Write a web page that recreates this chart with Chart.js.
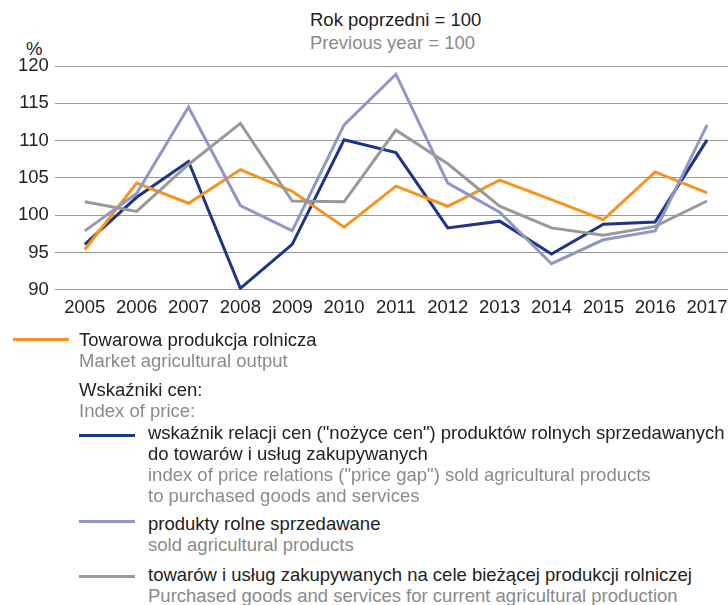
<!DOCTYPE html>
<html>
<head>
<meta charset="utf-8">
<script src="https://cdn.jsdelivr.net/npm/chart.js@4/dist/chart.umd.min.js"></script>
<style>
    body { margin: 0; background: #fff; }
    .page { position: relative; width: 728px; height: 605px; overflow: hidden; font-family: "Liberation Sans", Arial, sans-serif; }
    .plot { position: absolute; left: 0; top: 0; width: 740px; height: 330px; }
    .head { position: absolute; left: 310px; font-size: 18.5px; white-space: nowrap; }
    .pct { position: absolute; left: 26px; top: 38px; font-size: 18.5px; color: #222; }
    .leg { position: absolute; font-size: 18.5px; line-height: 21px; white-space: nowrap; color: #222; }
    .leg .en { color: #8a8a8a; }
    .swatch { position: absolute; width: 56px; height: 3px; }
</style>
</head>
<body>
<div class="page">
    <div class="head" style="top: 9px; color: #222;">Rok poprzedni = 100</div>
    <div class="head" style="top: 32px; color: #8a8a8a;">Previous year = 100</div>
    <div class="pct">%</div>
    <div class="plot"><canvas id="chart"></canvas></div>

    <div class="swatch" style="left: 13px; top: 338px; background: #f7941d;"></div>
    <div class="leg" style="left: 79px; top: 329px;">Towarowa produkcja rolnicza<br><span class="en">Market agricultural output</span></div>
    <div class="leg" style="left: 79px; top: 379px;">Wskaźniki cen:<br><span class="en">Index of price:</span></div>

    <div class="swatch" style="left: 79px; top: 434px; background: #1d3584;"></div>
    <div class="leg" style="left: 148px; top: 422px;">wskaźnik relacji cen ("nożyce cen") produktów rolnych sprzedawanych<br>do towarów i usług zakupywanych<br><span class="en">index of price relations ("price gap") sold agricultural products<br>to purchased goods and services</span></div>

    <div class="swatch" style="left: 79px; top: 520px; background: #8f96c8;"></div>
    <div class="leg" style="left: 148px; top: 513px;">produkty rolne sprzedawane<br><span class="en">sold agricultural products</span></div>

    <div class="swatch" style="left: 79px; top: 575px; background: #999;"></div>
    <div class="leg" style="left: 148px; top: 564px;">towarów i usług zakupywanych na cele bieżącej produkcji rolniczej<br><span class="en">Purchased goods and services for current agricultural production</span></div>
</div>

<script>
const years = ['2005', '2006', '2007', '2008', '2009', '2010', '2011', '2012', '2013', '2014', '2015', '2016', '2017'];

// Towarowa produkcja rolnicza
const marketOutput = [95.4, 104.3, 101.6, 106.1, 103.2, 98.4, 103.9, 101.2, 104.7, 102.1, 99.4, 105.8, 103.0];
// nożyce cen
const priceGap = [96.1, 102.4, 107.2, 90.2, 96.1, 110.1, 108.4, 98.3, 99.2, 94.8, 98.8, 99.1, 110.1];
// produkty rolne sprzedawane
const soldProducts = [97.9, 102.9, 114.5, 101.3, 97.9, 112.1, 118.9, 104.3, 100.4, 93.5, 96.7, 97.9, 112.1];
// towary i usługi zakupywane
const purchased = [101.8, 100.5, 106.8, 112.3, 101.9, 101.8, 111.4, 106.9, 101.2, 98.3, 97.3, 98.5, 101.9];

const yMin = 90;
const yMax = 120;
const yStep = 5;

function line(values, color) {
    return {
        data: values,
        borderColor: color,
        backgroundColor: color,
        borderWidth: 3,
        pointRadius: 0,
        tension: 0,
        fill: false
    };
}

const data = {
    labels: years,
    datasets: [
        line(purchased, '#999999'),
        line(soldProducts, '#8f96c8'),
        line(marketOutput, '#f7941d'),
        line(priceGap, '#1d3584')
    ]
};

const config = {
    type: 'line',
    data: data,
    options: {
        responsive: true,
        maintainAspectRatio: false,
        animation: false,
        layout: {
            padding: { top: 66, left: 12, right: 7, bottom: 4 }
        },
        plugins: {
            legend: { display: false },
            tooltip: { enabled: false }
        },
        scales: {
            x: {
                offset: true,
                grid: { display: false, drawTicks: false },
                border: { display: false },
                ticks: {
                    color: '#222',
                    padding: 7,
                    maxRotation: 0,
                    autoSkip: false,
                    font: { family: 'Liberation Sans', size: 18.5 }
                }
            },
            y: {
                min: yMin,
                max: yMax,
                grid: { color: '#999', lineWidth: 1, tickLength: 4, tickColor: '#999' },
                border: { display: false },
                ticks: {
                    stepSize: yStep,
                    color: '#222',
                    padding: 6,
                    font: { family: 'Liberation Sans', size: 18.5 }
                }
            }
        }
    }
};

let chart = new Chart(document.getElementById('chart'), config);
</script>
</body>
</html>
